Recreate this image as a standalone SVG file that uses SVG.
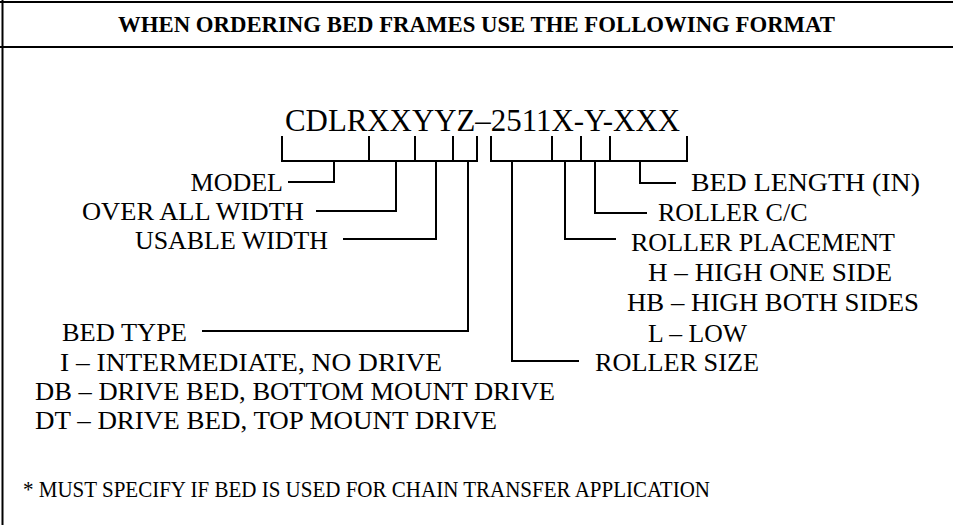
<svg xmlns="http://www.w3.org/2000/svg" width="953" height="525" viewBox="0 0 953 525">
<style>
  .frame { stroke: #000; stroke-width: 2; fill: none; }
  .conn { stroke: #000; stroke-width: 2; fill: none; stroke-linecap: square; }
  .hdr { font-family: "Liberation Serif", "Times New Roman", serif; font-weight: bold; font-size: 23px; fill: #000; }
  .code { font-family: "Liberation Serif", "Times New Roman", serif; font-size: 31px; fill: #000; }
  .lbl { font-family: "Liberation Serif", "Times New Roman", serif; font-size: 26px; fill: #000; }
  .note { font-family: "Liberation Serif", "Times New Roman", serif; font-size: 24px; fill: #000; }
</style>
<rect x="0" y="0" width="953" height="525" fill="#fff"/>
<g id="frame">
  <line class="frame" x1="0" y1="2" x2="953" y2="2"/>
  <line class="frame" x1="0" y1="47" x2="953" y2="47"/>
  <line class="frame" x1="2.5" y1="0" x2="2.5" y2="525"/>
</g>
<g id="header">
  <text class="hdr" x="118" y="32" textLength="717" lengthAdjust="spacingAndGlyphs">WHEN ORDERING BED FRAMES USE THE FOLLOWING FORMAT</text>
</g>
<g id="code">
  <text class="code" x="285" y="131" textLength="395" lengthAdjust="spacingAndGlyphs">CDLRXXYYZ–2511X-Y-XXX</text>
</g>
<g id="connectors">
  <path class="conn" d="M282,137 V161 H477 V137 M369,137 V161 M415,137 V161 M453,137 V161"/>
  <path class="conn" d="M491,137 V161 H687 V137 M552,137 V161 M581,137 V161 M610,137 V161"/>
  <path class="conn" d="M289,182 H334 V161"/>
  <path class="conn" d="M317,211 H396 V161"/>
  <path class="conn" d="M344,239 H436 V161"/>
  <path class="conn" d="M203,331 H468 V161"/>
  <path class="conn" d="M675,183 H640 V161"/>
  <path class="conn" d="M646,213 H595 V161"/>
  <path class="conn" d="M615,239 H565 V161"/>
  <path class="conn" d="M578,361 H512 V161"/>
</g>
<g id="model"><text class="lbl" x="283" y="191" text-anchor="end">MODEL</text></g>
<g id="overall-width"><text class="lbl" x="82" y="220" textLength="222" lengthAdjust="spacingAndGlyphs">OVER ALL WIDTH</text></g>
<g id="usable-width"><text class="lbl" x="135" y="249" textLength="193" lengthAdjust="spacingAndGlyphs">USABLE WIDTH</text></g>
<g id="bed-type">
  <text class="lbl" x="62" y="341" textLength="125" lengthAdjust="spacingAndGlyphs">BED TYPE</text>
  <text class="lbl" x="60" y="371" textLength="382" lengthAdjust="spacingAndGlyphs">I – INTERMEDIATE, NO DRIVE</text>
  <text class="lbl" x="35" y="400" textLength="520" lengthAdjust="spacingAndGlyphs">DB – DRIVE BED, BOTTOM MOUNT DRIVE</text>
  <text class="lbl" x="35" y="429" textLength="462" lengthAdjust="spacingAndGlyphs">DT – DRIVE BED, TOP MOUNT DRIVE</text>
</g>
<g id="bed-length"><text class="lbl" x="691" y="191" textLength="229" lengthAdjust="spacingAndGlyphs">BED LENGTH (IN)</text></g>
<g id="roller-cc"><text class="lbl" x="658" y="221">ROLLER C/C</text></g>
<g id="roller-placement">
  <text class="lbl" x="631" y="251" textLength="264" lengthAdjust="spacingAndGlyphs">ROLLER PLACEMENT</text>
  <text class="lbl" x="648" y="281" textLength="244" lengthAdjust="spacingAndGlyphs">H – HIGH ONE SIDE</text>
  <text class="lbl" x="627" y="311" textLength="292" lengthAdjust="spacingAndGlyphs">HB – HIGH BOTH SIDES</text>
  <text class="lbl" x="648" y="342" textLength="99" lengthAdjust="spacingAndGlyphs">L – LOW</text>
</g>
<g id="roller-size"><text class="lbl" x="595" y="371" textLength="164" lengthAdjust="spacingAndGlyphs">ROLLER SIZE</text></g>
<g id="note"><text class="note" x="23" y="497" textLength="687" lengthAdjust="spacingAndGlyphs">* MUST SPECIFY IF BED IS USED FOR CHAIN TRANSFER APPLICATION</text></g>
</svg>
